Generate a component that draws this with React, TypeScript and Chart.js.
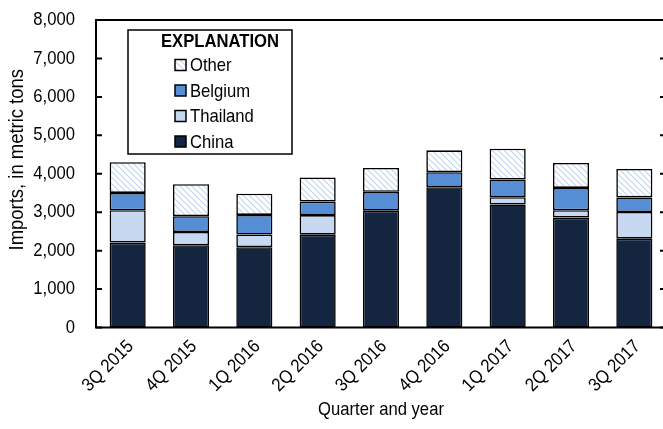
import React, { useEffect, useRef } from "react";
import { Chart, registerables } from "chart.js";

Chart.register(...registerables);

const quarters = ["3Q 2015", "4Q 2015", "1Q 2016", "2Q 2016", "3Q 2016", "4Q 2016", "1Q 2017", "2Q 2017", "3Q 2017"];
const china = [2210, 2140, 2090, 2415, 3040, 3650, 3200, 2860, 2310];
const thailand = [840, 345, 330, 510, 0, 0, 190, 190, 695];
const belgium = [450, 410, 510, 350, 490, 390, 460, 580, 380];
const other = [800, 835, 550, 630, 620, 570, 800, 650, 740];
const yMax = 8000;
const yStep = 1000;
const yTitle = "Imports, in metric tons";
const xTitle = "Quarter and year";
const legendTitle = "EXPLANATION";
const legendItems = ["Other", "Belgium", "Thailand", "China"];

const FONT = "'Liberation Sans', Arial, sans-serif";
const FS = 18.5;
const SX = 0.9;
const CHINA_C = "#13253f";
const THAI_C = "#c6d9f0";
const BEL_C = "#558ed5";

function makeHatch(): CanvasPattern | string {
  const c = document.createElement("canvas");
  c.width = 6;
  c.height = 6;
  const g = c.getContext("2d");
  if (!g) return "#ffffff";
  g.fillStyle = "#ffffff";
  g.fillRect(0, 0, 6, 6);
  g.strokeStyle = "#c6d5eb";
  g.lineWidth = 1.2;
  g.beginPath();
  g.moveTo(-1, -1);
  g.lineTo(7, 7);
  g.moveTo(-1, 5);
  g.lineTo(1, 7);
  g.moveTo(5, -1);
  g.lineTo(7, 1);
  g.stroke();
  const p = g.createPattern(c, "repeat");
  return p || "#ffffff";
}

function drawText(ctx: CanvasRenderingContext2D, text: string, x: number, y: number, align: CanvasTextAlign, rot: number, bold = false, size = FS) {
  ctx.save();
  ctx.translate(x, y);
  if (rot) ctx.rotate(rot);
  ctx.scale(SX, 1);
  ctx.font = `${bold ? "bold " : ""}${size}px ${FONT}`;
  ctx.textAlign = align;
  ctx.textBaseline = "middle";
  ctx.fillStyle = "#000";
  ctx.fillText(text, 0, 0);
  ctx.restore();
}

export default function App() {
  const ref = useRef<HTMLCanvasElement | null>(null);

  useEffect(() => {
    if (!ref.current) return;
    const hatch = makeHatch();
    const swatches: any[] = [hatch, BEL_C, THAI_C, CHINA_C];

    const framePlugin = {
      id: "frame",
      afterDraw(chart: any) {
        const { ctx, chartArea } = chart;
        const y = chart.scales.y;
        const x = chart.scales.x;
        ctx.save();
        ctx.strokeStyle = "#000";
        ctx.lineWidth = 2;
        ctx.strokeRect(chartArea.left, chartArea.top, chartArea.right - chartArea.left, chartArea.bottom - chartArea.top);
        for (let v = 0; v <= yMax; v += yStep) {
          const py = y.getPixelForValue(v);
          ctx.beginPath();
          ctx.moveTo(chartArea.left, py);
          ctx.lineTo(chartArea.left + 6, py);
          ctx.moveTo(chartArea.right, py);
          ctx.lineTo(chartArea.right - 6, py);
          ctx.stroke();
          drawText(ctx, v.toLocaleString("en-US"), chartArea.left - 21, py, "right", 0);
        }
        // y title
        drawText(ctx, yTitle, 17.5, (chartArea.top + chartArea.bottom) / 2 - 14, "center", -Math.PI / 2, false, 20.5);
        // x labels
        quarters.forEach((q, i) => {
          const px = x.getPixelForValue(i);
          drawText(ctx, q, px + 3, chartArea.bottom + 16, "right", -Math.PI / 4);
        });
        // x title
        drawText(ctx, xTitle, (chartArea.left + chartArea.right) / 2, 410, "center", 0);

        // legend
        const lx = 128, ly = 30, lw = 164, lh = 124;
        ctx.fillStyle = "#fff";
        ctx.fillRect(lx, ly, lw, lh);
        ctx.lineWidth = 1.5;
        ctx.strokeStyle = "#000";
        ctx.strokeRect(lx, ly, lw, lh);
        drawText(ctx, legendTitle, 220, 42, "center", 0, true);
        legendItems.forEach((t, i) => {
          const cy = 65 + i * 25.5;
          ctx.fillStyle = swatches[i];
          ctx.fillRect(175, cy - 5.5, 11, 11);
          ctx.lineWidth = 1.5;
          ctx.strokeStyle = "#000";
          ctx.strokeRect(175, cy - 5.5, 11, 11);
          drawText(ctx, t, 190, cy + 1, "left", 0);
        });
        ctx.restore();
      },
    };

    const common = { borderColor: "#000", borderWidth: 1.6, borderSkipped: false, barPercentage: 0.57, categoryPercentage: 1 };

    const chart = new Chart(ref.current, {
      type: "bar",
      data: {
        labels: quarters,
        datasets: [
          { label: "China", data: china, backgroundColor: CHINA_C, ...common },
          { label: "Thailand", data: thailand, backgroundColor: THAI_C, ...common },
          { label: "Belgium", data: belgium, backgroundColor: BEL_C, ...common },
          { label: "Other", data: other, backgroundColor: hatch as any, ...common },
        ],
      },
      options: {
        animation: false,
        responsive: false,
        devicePixelRatio: 1,
        layout: { padding: { top: 20, right: 6, left: 0, bottom: 0 } },
        plugins: { legend: { display: false }, tooltip: { enabled: false } },
        scales: {
          x: {
            stacked: true,
            grid: { display: false, drawTicks: false },
            border: { display: false },
            ticks: { display: false },
            title: { display: false },
            afterFit(scale: any) {
              scale.height = 101.5;
            },
          },
          y: {
            stacked: true,
            min: 0,
            max: yMax,
            grid: { display: false, drawTicks: false },
            border: { display: false },
            ticks: { display: false, stepSize: yStep },
            title: { display: false },
            afterFit(scale: any) {
              scale.width = 96;
            },
          },
        },
      },
      plugins: [framePlugin],
    });
    return () => chart.destroy();
  }, []);

  return (
    <div style={{ position: "fixed", left: 0, top: 0, width: 663, height: 429, overflow: "hidden", background: "#fff" }}>
      <canvas ref={ref} width={672} height={429} style={{ width: 672, height: 429, display: "block" }} />
    </div>
  );
}
